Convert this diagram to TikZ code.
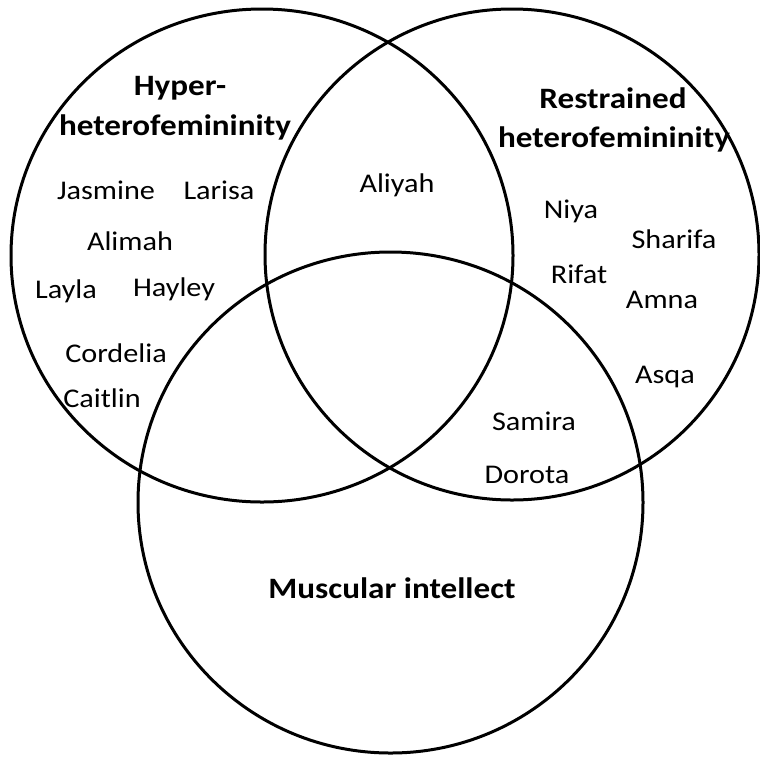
\documentclass[tikz,border=0pt]{standalone}
\usepackage{fontspec}
\setmainfont{Carlito}[FakeStretch=1.12]
\begin{document}
\begin{tikzpicture}[x=1pt,y=-1pt,
  ring/.style={line width=3pt},
  nm/.style={anchor=base,inner sep=0pt,font=\fontsize{27}{30}\selectfont},
  ttl/.style={anchor=base,inner sep=0pt,font=\fontsize{29.6}{33}\selectfont\bfseries}]
\useasboundingbox (0,0) rectangle (760,756);
\draw[ring] (262,255.5) ellipse [x radius=251, y radius=246.5];
\draw[ring] (512,254.5) ellipse [x radius=247, y radius=245.5];
\draw[ring] (390.5,502.5) ellipse [x radius=252.5, y radius=250.5];
% titles
\node[ttl] (t1a) at (180,95) {Hyper-};
\node[ttl] (t1b) at (175,135) {heterofemininity};
\node[ttl] (t2a) at (613,108) {Restrained};
\node[ttl] (t2b) at (614,147) {heterofemininity};
\node[ttl] (t3) at (392,598) {Muscular intellect};
% names
\node[nm] (jas) at (106,199) {Jasmine};
\node[nm] (lar) at (219,199) {Larisa};
\node[nm] (ali) at (130,250) {Alimah};
\node[nm] (lay) at (66,298) {Layla};
\node[nm] (hay) at (174,296) {Hayley};
\node[nm] (cor) at (116,362) {Cordelia};
\node[nm] (cai) at (102,407) {Caitlin};
\node[nm] (aliy) at (397,192) {Aliyah};
\node[nm] (niy) at (571,218) {Niya};
\node[nm] (sha) at (674,248) {Sharifa};
\node[nm] (rif) at (579,283) {Rifat};
\node[nm] (amn) at (662,308) {Amna};
\node[nm] (asq) at (665,383) {Asqa};
\node[nm] (sam) at (534,430) {Samira};
\node[nm] (dor) at (527,483) {Dorota};
\end{tikzpicture}
\end{document}
